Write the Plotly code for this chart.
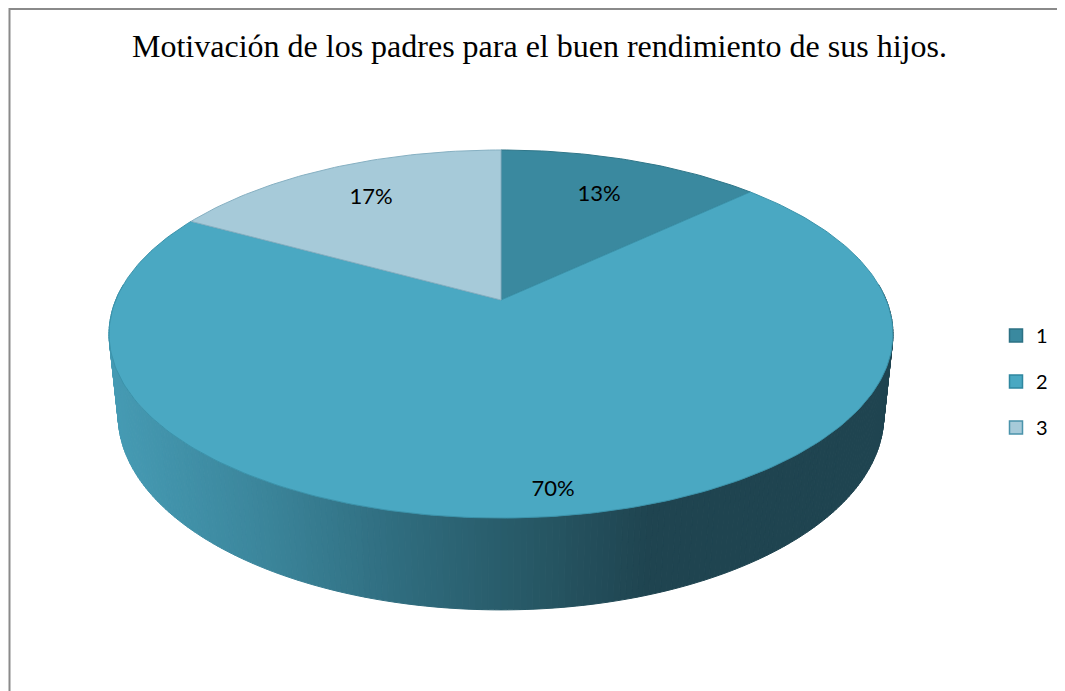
import math
import plotly.graph_objects as go

# ---- data ----
categories = ["1", "2", "3"]
values = [13, 70, 17]
labels_pct = ["13%", "70%", "17%"]
title_text = "Motivación de los padres para el buen rendimiento de sus hijos."

# ---- styling ----
top_colors = ["#3a899f", "#4aa8c2", "#a6cad9"]
edge_colors = ["#2f7689", "#3b93ab", "#86b0c2"]
legend_colors = ["#3a899f", "#4aa8c2", "#a6cad9"]
legend_edge = ["#2c7184", "#2f87a0", "#4a93ab"]
label_radius = [0.72, 0.9, 0.74]
# wall gradient stops (screen x -> color)
wall_stops = [(100, (70, 156, 181)), (250, (60, 135, 157)), (400, (47, 108, 126)),
              (560, (37, 83, 96)), (650, (31, 68, 80)), (950, (31, 68, 80))]

W, H = 1065, 691
OFF = 8  # page body margin in the browser
CX, CY = 501.0, 300.0
F = 1849.0
DIST = 4.80
SIN_A = 0.4614
COS_A = math.sqrt(1 - SIN_A ** 2)
DEPTH = 0.24


def proj(X, Y, Z):
    d = DIST + Y * COS_A - Z * SIN_A
    return CX + F * X / d, CY - F * (Y * SIN_A + Z * COS_A) / d


def rim(theta, r=1.0, z=0.0):
    return proj(r * math.sin(theta), r * math.cos(theta), z)


def wall_color(x):
    for (x0, c0), (x1, c1) in zip(wall_stops[:-1], wall_stops[1:]):
        if x <= x1:
            t = max(0.0, min(1.0, (x - x0) / (x1 - x0)))
            c = [round(a + (b - a) * t) for a, b in zip(c0, c1)]
            return "rgb(%d,%d,%d)" % tuple(c)
    return "rgb(%d,%d,%d)" % wall_stops[-1][1]


fig = go.Figure()

# ---- side wall (front half), painted back to front ----
N = 240
t0, t1 = math.radians(85), math.radians(275)
strips = []
for i in range(N):
    a = t0 + (t1 - t0) * i / N
    b = t0 + (t1 - t0) * (i + 1) / N
    strips.append((a, b))
strips.sort(key=lambda ab: -math.cos((ab[0] + ab[1]) / 2))
for a, b in strips:
    p1 = rim(a); p2 = rim(b); p3 = rim(b, z=-DEPTH); p4 = rim(a, z=-DEPTH)
    col = wall_color((p1[0] + p2[0]) / 2)
    fig.add_trace(go.Scatter(
        x=[p1[0], p2[0], p3[0], p4[0], p1[0]],
        y=[p1[1], p2[1], p3[1], p4[1], p1[1]],
        mode="lines", fill="toself", fillcolor=col,
        line=dict(color=col, width=1), hoverinfo="skip", showlegend=False))

# ---- top face slices ----
total = sum(values)
start = 0.0
mids = []
for i, v in enumerate(values):
    frac = v / total
    a0 = start * 2 * math.pi
    a1 = (start + frac) * 2 * math.pi
    n = max(8, int(360 * frac))
    xs, ys = [CX], [CY]
    for k in range(n + 1):
        x, y = rim(a0 + (a1 - a0) * k / n)
        xs.append(x); ys.append(y)
    xs.append(CX); ys.append(CY)
    fig.add_trace(go.Scatter(
        x=xs, y=ys, mode="lines", fill="toself", fillcolor=top_colors[i],
        line=dict(color=edge_colors[i], width=1), hoverinfo="skip",
        showlegend=False))
    mids.append((a0 + a1) / 2)
    start += frac

# ---- percentage labels ----
lx, ly = [], []
for i, m in enumerate(mids):
    x, y = rim(m, r=label_radius[i])
    lx.append(x); ly.append(y)
fig.add_trace(go.Scatter(
    x=lx, y=ly, mode="text", text=labels_pct,
    textfont=dict(family="Lato", size=22, color="#000000"),
    hoverinfo="skip", showlegend=False))

# ---- legend entries ----
for i, c in enumerate(categories):
    fig.add_trace(go.Scatter(
        x=[None], y=[None], mode="markers", name=c, legendgroup=c,
        marker=dict(symbol="square", size=13, color=legend_colors[i],
                    line=dict(color=legend_edge[i], width=1.5))))

PW, PH = W - OFF, H - OFF
fig.update_layout(
    width=PW, height=PH,
    margin=dict(l=0, r=0, t=0, b=0, pad=0),
    paper_bgcolor="white", plot_bgcolor="white",
    xaxis=dict(range=[OFF, W], visible=False, fixedrange=True),
    yaxis=dict(range=[H, OFF], visible=False, fixedrange=True),
    showlegend=True,
    legend=dict(x=(996 - OFF) / PW, y=1 - (316 - OFF) / PH, xanchor="left", yanchor="top",
                font=dict(family="Lato", size=20, color="#000000"),
                tracegroupgap=17, itemwidth=30, bgcolor="rgba(0,0,0,0)"),
    annotations=[dict(
        x=539, y=46, xref="x", yref="y", text=title_text, showarrow=False,
        xanchor="center", yanchor="middle",
        font=dict(family="Liberation Serif", size=32, color="#000000"))],
    shapes=[dict(type="rect", xref="x", yref="y", x0=9.5, y0=9, x1=W + 20, y1=H + 20,
                 line=dict(color="#8a8a8a", width=2), fillcolor="rgba(0,0,0,0)",
                 layer="below")],
)

fig.write_html("out.html")
